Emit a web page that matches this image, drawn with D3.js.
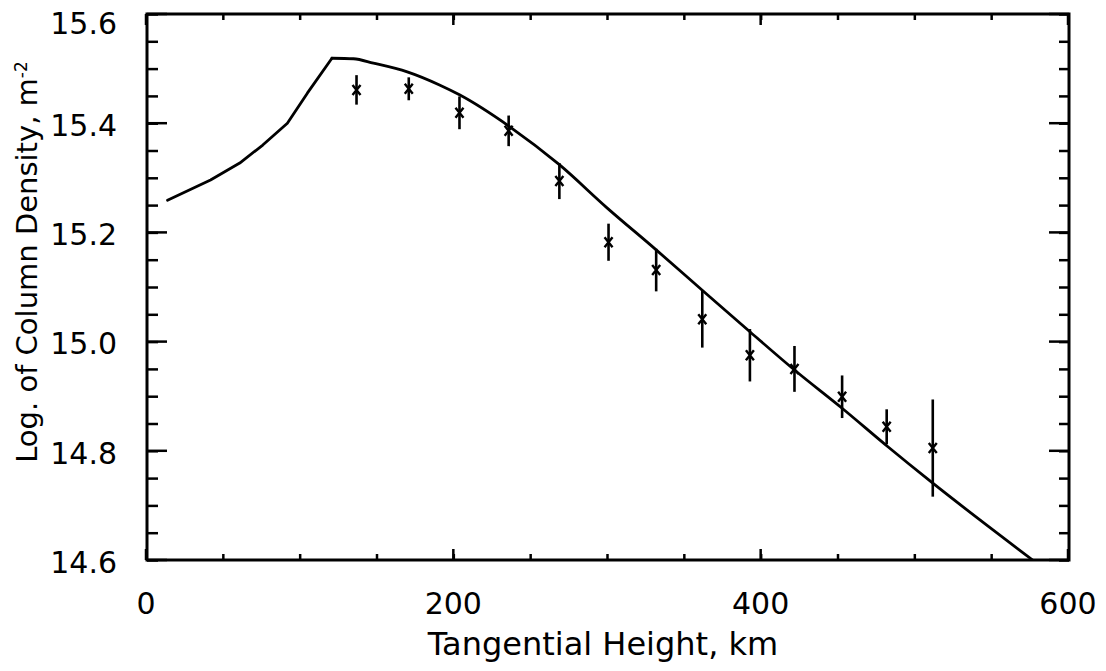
<!DOCTYPE html>
<html>
<head>
<meta charset="utf-8">
<script src="https://cdn.jsdelivr.net/npm/d3@7"></script>
<style>
  body { margin: 0; background: #fff; }
  svg text { font-family: "DejaVu Sans", sans-serif; fill: #000; }
</style>
</head>
<body>
<div id="chart"></div>
<script>
// model curve (km, log column density); the peak is at index 6
var curveX = [14, 42, 61, 76, 92, 105, 121, 135, 148, 170, 191, 204, 237, 269, 300, 332, 362, 393, 422, 453, 483, 511, 577];
var curveY = [15.259, 15.296, 15.327, 15.36, 15.40, 15.455, 15.519, 15.518, 15.51, 15.494, 15.47, 15.452, 15.393, 15.324, 15.245, 15.168, 15.094, 15.018, 14.948, 14.878, 14.807, 14.743, 14.60];
var peakIndex = 6;

// measurements with error bars
var obsX = [137, 171, 204, 236, 269, 301, 332, 362, 393, 422, 453, 482, 512];
var obsY = [15.461, 15.463, 15.419, 15.386, 15.294, 15.182, 15.131, 15.041, 14.975, 14.95, 14.899, 14.844, 14.805];
var obsErr = [0.027, 0.021, 0.03, 0.028, 0.033, 0.034, 0.039, 0.052, 0.048, 0.042, 0.039, 0.032, 0.089];

var xTicks = [0, 200, 400, 600];
var yTicks = [14.6, 14.8, 15.0, 15.2, 15.4, 15.6];

var width = 1106, height = 671;
var pLeft = 147, pRight = 1069, pTop = 14, pBottom = 560;

var x = d3.scaleLinear().domain([0, 600]).range([146, 1068]);
var y = d3.scaleLinear().domain([14.6, 15.6]).range([pBottom, pTop]);

var svg = d3.select("#chart").append("svg")
  .attr("width", width)
  .attr("height", height);

svg.append("defs").append("clipPath").attr("id", "plotclip")
  .append("rect")
    .attr("x", pLeft).attr("y", pTop)
    .attr("width", pRight - pLeft).attr("height", pBottom - pTop);

// axes: ticks point inward on all four sides
var xMinor = d3.range(0, 601, 50);
var yMinor = d3.range(0, 21).map(function(i){ return +(14.6 + i * 0.05).toFixed(2); });

var xBottom = d3.axisTop(x).tickValues(xMinor).tickSize(6).tickFormat("");
var xTop = d3.axisBottom(x).tickValues(xMinor).tickSize(6).tickFormat("");
var yLeft = d3.axisRight(y).tickValues(yMinor).tickSize(11).tickFormat("");
var yRight = d3.axisLeft(y).tickValues(yMinor).tickSize(10).tickFormat("");

function styleAxis(g){
  g.select(".domain").remove();
  g.selectAll("line").attr("stroke", "#000").attr("stroke-width", 2.5);
}

svg.append("g").attr("transform", "translate(0," + pBottom + ")").call(xBottom).call(styleAxis);
svg.append("g").attr("transform", "translate(0," + pTop + ")").call(xTop).call(styleAxis);
svg.append("g").attr("transform", "translate(" + pLeft + ",0)").call(yLeft).call(styleAxis);
svg.append("g").attr("transform", "translate(" + pRight + ",0)").call(yRight).call(styleAxis);

// major ticks a bit longer
svg.append("g").selectAll("line")
  .data(xTicks).enter().append("line")
    .attr("x1", function(d){ return x(d); }).attr("x2", function(d){ return x(d); })
    .attr("y1", pBottom).attr("y2", pBottom - 11)
    .attr("stroke", "#000").attr("stroke-width", 2.5);
svg.append("g").selectAll("line")
  .data(xTicks).enter().append("line")
    .attr("x1", function(d){ return x(d); }).attr("x2", function(d){ return x(d); })
    .attr("y1", pTop).attr("y2", pTop + 11)
    .attr("stroke", "#000").attr("stroke-width", 2.5);
svg.append("g").selectAll("line")
  .data(yTicks).enter().append("line")
    .attr("x1", pLeft).attr("x2", pLeft + 20)
    .attr("y1", function(d){ return y(d); }).attr("y2", function(d){ return y(d); })
    .attr("stroke", "#000").attr("stroke-width", 2.5);
svg.append("g").selectAll("line")
  .data(yTicks).enter().append("line")
    .attr("x1", pRight).attr("x2", pRight - 20)
    .attr("y1", function(d){ return y(d); }).attr("y2", function(d){ return y(d); })
    .attr("stroke", "#000").attr("stroke-width", 2.5);

// frame
svg.append("rect")
  .attr("x", pLeft).attr("y", pTop)
  .attr("width", pRight - pLeft).attr("height", pBottom - pTop)
  .attr("fill", "none")
  .attr("stroke", "#000")
  .attr("stroke-width", 3);

// tick labels
svg.append("g").selectAll("text")
  .data(xTicks).enter().append("text")
    .attr("x", function(d){ return x(d); })
    .attr("y", 614)
    .attr("text-anchor", "middle")
    .attr("font-size", "30px")
    .text(function(d){ return d; });

svg.append("g").selectAll("text")
  .data(yTicks).enter().append("text")
    .attr("x", 117)
    .attr("y", function(d){ return Math.max(y(d) + 2, 23); })
    .attr("dy", "0.36em")
    .attr("text-anchor", "end")
    .attr("font-size", "30px")
    .text(function(d){ return d.toFixed(1); });

// axis titles
svg.append("text")
  .attr("x", 603)
  .attr("y", 655)
  .attr("text-anchor", "middle")
  .attr("font-size", "32px")
  .text("Tangential Height, km");

var ylab = svg.append("text")
  .attr("transform", "translate(37,262) rotate(-90)")
  .attr("text-anchor", "middle")
  .attr("font-size", "29px");
ylab.append("tspan").text("Log. of Column Density, m");
ylab.append("tspan").attr("dy", "-0.6em").attr("font-size", "17px").text("-2");

// model line: straight segments on the rise, smooth after the peak
var pts = curveX.map(function(d, i){ return [d, curveY[i]]; });
var rise = pts.slice(0, peakIndex + 1);
var fall = pts.slice(peakIndex);

function modelPath(data, curve){
  svg.append("path")
    .datum(data)
    .attr("clip-path", "url(#plotclip)")
    .attr("fill", "none")
    .attr("stroke", "#000")
    .attr("stroke-width", 2.8)
    .attr("stroke-linejoin", "round")
    .attr("stroke-linecap", "round")
    .attr("d", d3.line().curve(curve).x(function(d){ return x(d[0]); }).y(function(d){ return y(d[1]); }));
}
modelPath(rise, d3.curveLinear);
modelPath(fall, d3.curveMonotoneX);

// observations
var obs = obsX.map(function(d, i){ return {x: d, y: obsY[i], e: obsErr[i]}; });
var og = svg.append("g").selectAll("g")
  .data(obs).enter().append("g")
    .attr("transform", function(d){ return "translate(" + x(d.x) + "," + y(d.y) + ")"; });

og.append("line")
  .attr("x1", 0).attr("x2", 0)
  .attr("y1", function(d){ return y(d.y + d.e) - y(d.y); })
  .attr("y2", function(d){ return y(d.y - d.e) - y(d.y); })
  .attr("stroke", "#000").attr("stroke-width", 2.6);

og.append("path")
  .attr("d", "M-4,-5L4,5M-4,5L4,-5")
  .attr("fill", "none")
  .attr("stroke", "#000")
  .attr("stroke-width", 2.4);
</script>
</body>
</html>
